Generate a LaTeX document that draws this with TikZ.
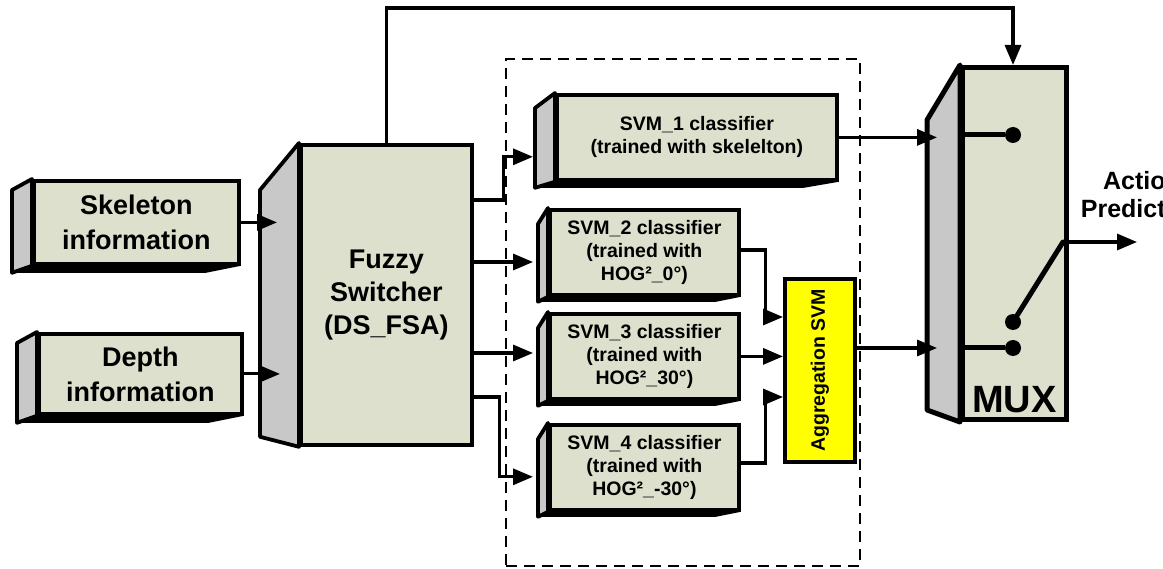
\documentclass[tikz,border=0pt]{standalone}
\usepackage{fontspec}
\setmainfont{Liberation Sans}
\usepackage{graphicx}
\usetikzlibrary{calc,arrows.meta}

\definecolor{boxfill}{RGB}{221,224,204}
\definecolor{sidefill}{RGB}{200,200,200}
\definecolor{aggfill}{RGB}{255,255,0}

\newcommand{\bigfont}{\fontsize{27}{35}\selectfont\bfseries}
\newcommand{\fuzzfont}{\fontsize{27}{33}\selectfont\bfseries}
\newcommand{\svmfont}{\fontsize{19.5}{23}\selectfont\bfseries}
\newcommand{\muxfont}{\fontsize{38}{40}\selectfont\bfseries}
\newcommand{\actfont}{\fontsize{25}{28}\selectfont\bfseries}

% left face of a box: node, depth, drop at top, drop at bottom
\newcommand{\sideface}[5][3.8pt]{%
  \filldraw[fill=sidefill, line width=#1, line join=round]
    (#2.north west) -- ($(#2.north west)+(-#3,#4)$)
    -- ($(#2.south west)+(-#3,#5)$) -- (#2.south west) -- cycle;}
% dark bottom face
\newcommand{\bottomface}[3]{%
  \fill (#1.south west) -- ($(#1.south west)+(-#2,#3)$)
    -- ($(#1.south east)+(-#2-15,#3)$) -- (#1.south east) -- cycle;}

\begin{document}
\begin{tikzpicture}[x=1pt,y=-1pt,
  box/.style={draw, fill=boxfill, line width=3.8pt, anchor=north west,
              inner sep=0pt, align=center},
  arr/.style={line width=3.2pt, -{Triangle[length=20pt,width=16pt]}},
  muxline/.style={line width=5pt},
  dot/.style={circle, fill=black, inner sep=0pt, minimum size=16pt}]
\useasboundingbox (0,0) rectangle (1163,569);

% group of classifiers
\node[draw, line width=2.2pt, dash pattern=on 11pt off 7pt, anchor=north west,
      minimum width=354, minimum height=507, inner sep=0pt] (grp) at (505,58) {};

%-----------------------------
\node[box, minimum width=205, minimum height=83, font=\bigfont] (skel) at (32,179) {Skeleton\\information};
\node[box, minimum width=203, minimum height=80, font=\bigfont] (depth) at (37,332) {Depth\\information};
\node[box, minimum width=171, minimum height=300, font=\fuzzfont] (fuzzy) at (299,143) {Fuzzy\\Switcher\\(DS\_FSA)};
\bottomface{skel}{20}{7}
\bottomface{depth}{20}{7}
\sideface{skel}{20}{11}{7}
\sideface{depth}{20}{11}{7}
\sideface{fuzzy}{39}{47}{-10}

%-----------------------------
\node[box, minimum width=280, minimum height=85, font=\svmfont] (svm1) at (555,93) {SVM\_1 classifier\\(trained with skelelton)};
\node[box, minimum width=189, minimum height=85, font=\svmfont] (svm2) at (548,208) {SVM\_2 classifier\\(trained with\\HOG²\_0°)};
\node[box, minimum width=189, minimum height=85, font=\svmfont] (svm3) at (548,312) {SVM\_3 classifier\\(trained with\\HOG²\_30°)};
\node[box, minimum width=189, minimum height=85, font=\svmfont] (svm4) at (548,423) {SVM\_4 classifier\\(trained with\\HOG²\_-30°)};
\bottomface{svm1}{20}{6}
\sideface{svm1}{20}{15}{6}
\foreach \s in {svm2,svm3,svm4}{
  \bottomface{\s}{10}{5}
  \sideface{\s}{10}{16}{5}
}
\node[box, fill=aggfill, minimum width=70, minimum height=183, font=\svmfont] (agg) at (783,277) {\rotatebox{90}{Aggregation SVM}};

%-----------------------------
\node[box, line width=5pt, minimum width=104, minimum height=352] (mux) at (960,65) {};
\sideface[5pt]{mux}{33}{55}{-12}
\node[font=\muxfont, anchor=base] (muxlbl) at ($(mux.south)+(0,-9)$) {MUX};
\node[dot] (in1) at (1013,135) {};
\node[dot] (swd) at (1013,322) {};
\node[dot] (in2) at (1013,348) {};
\coordinate (pivot) at (1063,242);
\coordinate (out) at (1137,242);
\draw[muxline] (in1 -| mux.west) -- (in1);
\draw[muxline] (in2 -| mux.west) -- (in2);
\draw[muxline, line cap=round] (swd) -- (pivot);
\draw[arr] (pivot) -- (out);
\node[font=\actfont, align=center] (act) at (1142,195) {Action\\Prediction};

%-----------------------------
\draw[arr] (skel.east) -- ([xshift=-22pt]skel.east -| fuzzy.west);
\draw[arr] (depth.east) -- ([xshift=-19pt]depth.east -| fuzzy.west);
\draw[arr] (fuzzy.north) |- ($(mux.north west)+(53,-57)$) -- ($(mux.north west)+(53,0)$);
%-----------------------------
\draw[arr] ($(fuzzy.north east)+(0,57)$) -- ++(30,0) |- ($(svm1.south west)+(-22,-25)$);
\draw[arr] ($(fuzzy.north east)+(0,119)$) -- ($(fuzzy.north east -| svm2.west)+(-15,119)$);
\draw[arr] ($(fuzzy.north east)+(0,210)$) -- ($(fuzzy.north east -| svm3.west)+(-15,210)$);
\draw[arr] ($(fuzzy.north east)+(0,254)$) -- ++(26,0) |- ($(svm4.south west)+(-15,-35)$);
%-----------------------------
\draw[arr] ($(svm2.north east)+(0,42)$) -- ++(25,0) |- ($(agg.north west)+(0,40)$);
\draw[arr] (svm3.east) -- (svm3.east -| agg.west);
\draw[arr] ($(svm4.north east)+(0,40)$) -- ++(25,0) |- ($(agg.north west)+(0,120)$);
%-----------------------------
\draw[arr] (svm1.east) -- ([xshift=-23pt]svm1.east -| mux.west);
\draw[arr] (agg.east |- in2) -- ([xshift=-23pt]in2 -| mux.west);

\end{tikzpicture}
\end{document}
